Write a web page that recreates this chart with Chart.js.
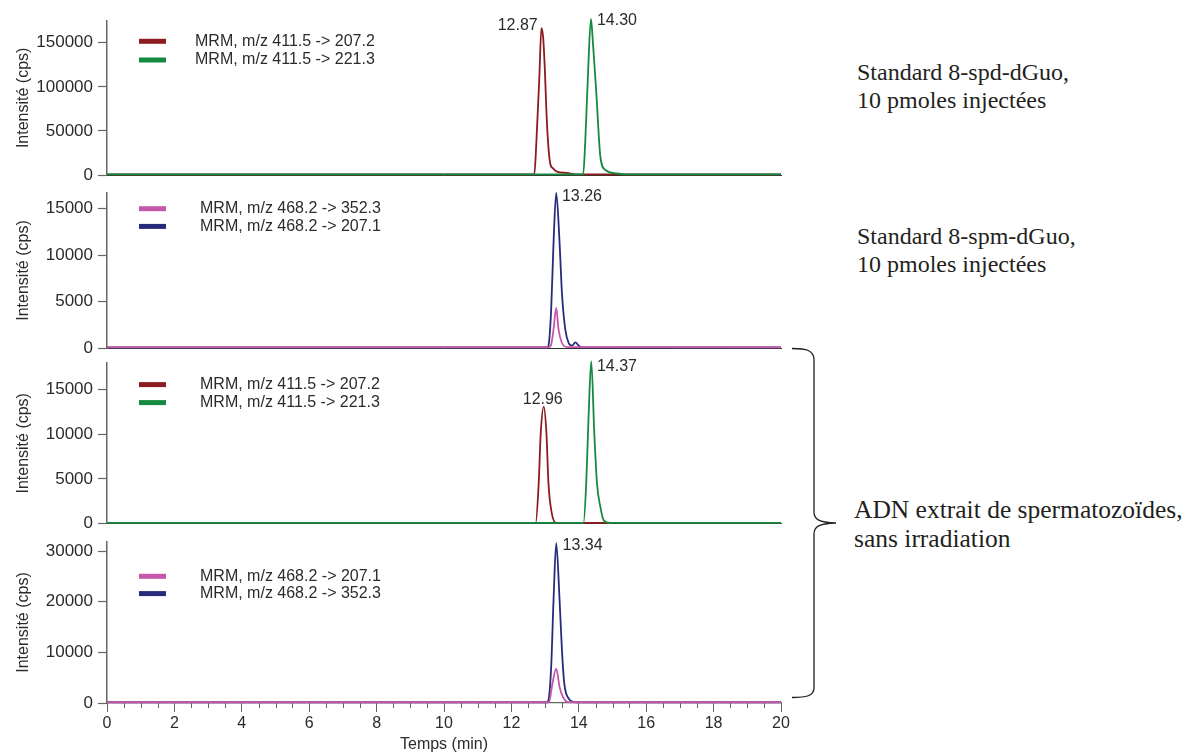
<!DOCTYPE html>
<html>
<head>
<meta charset="utf-8">
<title>Chromatogrammes MRM</title>
<script src="https://cdn.jsdelivr.net/npm/chart.js@4.4.0/dist/chart.umd.min.js"></script>
<style>
  body { margin: 0; background: #fff; }
  #wrap { position: relative; width: 1190px; height: 754px; overflow: hidden; }
  .panel { position: absolute; left: 0; width: 800px; }
  .note { position: absolute; font-family: "Liberation Serif", "Times New Roman", serif;
          font-size: 24px; line-height: 28px; color: #231f20; white-space: nowrap; }
  svg { position: absolute; left: 0; top: 0; pointer-events: none; }
</style>
</head>
<body>
<div id="wrap">
  <div class="panel" id="p1"><canvas id="c1"></canvas></div>
  <div class="panel" id="p2"><canvas id="c2"></canvas></div>
  <div class="panel" id="p3"><canvas id="c3"></canvas></div>
  <div class="panel" id="p4"><canvas id="c4"></canvas></div>

  <div class="note" style="top:58px;left:857px">Standard 8-spd-dGuo,<br>10 pmoles injectées</div>
  <div class="note" style="top:222px;left:857px">Standard 8-spm-dGuo,<br>10 pmoles injectées</div>
  <div class="note" style="top:495px;left:854px;font-size:25.5px;line-height:29px">ADN extrait de spermatozoïdes,<br>sans irradiation</div>

  <svg width="1190" height="754">
    <path d="M792,348.5 C806,348.5 814,350 814,360 L814,512 C814,519 818,522.5 836,523 C818,523.5 814,527 814,534 L814,688 C814,696 806,697.5 792,697.5"
          fill="none" stroke="#231f20" stroke-width="1.3"/>
  </svg>
</div>

<script>
// ---- data (time in min, intensity in cps) ----

// standard 8-spd-dGuo
const spd207Time = [0, 12.68, 12.74, 12.83, 12.89, 12.94, 12.98, 13.06, 13.15, 13.22, 13.35, 13.65, 13.90, 20];
const spd207Int  = [600, 600, 36400, 111700, 166600, 157100, 130600, 54900, 13300, 8000, 3800, 2300, 600, 600];
const spd221Time = [0, 14.13, 14.19, 14.27, 14.36, 14.42, 14.52, 14.64, 14.79, 15.13, 15.38, 20];
const spd221Int  = [600, 600, 36400, 111700, 176900, 149600, 92800, 20800, 5700, 1900, 600, 600];

// standard 8-spm-dGuo
const spm352Time = [0, 13.10, 13.17, 13.25, 13.33, 13.40, 13.50, 13.65, 20];
const spm352Int  = [60, 60, 250, 1970, 4310, 1970, 540, 100, 60];
const spm207Time = [0, 13.06, 13.10, 13.18, 13.25, 13.33, 13.43, 13.50, 13.60, 13.70, 13.80, 13.90, 14.00, 14.10, 20];
const spm207Int  = [60, 60, 250, 4120, 11300, 16700, 11300, 5900, 1970, 540, 250, 600, 250, 60, 60];

// ADN extrait, spd transitions
const adnSpd207Time = [0, 12.72, 12.81, 12.87, 12.96, 13.04, 13.10, 13.20, 13.33, 20];
const adnSpd207Int  = [80, 80, 4500, 10100, 13120, 10100, 4500, 1120, 80, 80];
const adnSpd221Time = [0, 14.14, 14.22, 14.29, 14.37, 14.46, 14.54, 14.64, 14.74, 14.94, 20];
const adnSpd221Int  = [80, 80, 4500, 12000, 18180, 10100, 4500, 1870, 370, 80, 80];

// ADN extrait, spm transitions
const adnSpm207Time = [0, 13.12, 13.20, 13.33, 13.43, 13.53, 13.70, 20];
const adnSpm207Int  = [150, 150, 3160, 6790, 3160, 1180, 150, 150];
const adnSpm352Time = [0, 13.06, 13.10, 13.18, 13.25, 13.33, 13.43, 13.50, 13.57, 13.70, 13.90, 20];
const adnSpm352Int  = [150, 150, 530, 7100, 20270, 31580, 20270, 10400, 3830, 870, 150, 150];

const legendSpd    = ['MRM, m/z 411.5 -> 207.2', 'MRM, m/z 411.5 -> 221.3'];
const legendSpmStd = ['MRM, m/z 468.2 -> 352.3', 'MRM, m/z 468.2 -> 207.1'];
const legendSpmAdn = ['MRM, m/z 468.2 -> 207.1', 'MRM, m/z 468.2 -> 352.3'];

const peaksStdSpd = ['12.87', '14.30'];
const peaksStdSpm = ['13.26'];
const peaksAdnSpd = ['12.96', '14.37'];
const peaksAdnSpm = ['13.34'];

const yMaxes = [175000, 16700, 18000, 31800];
const yTicks = [
  [0, 50000, 100000, 150000],
  [0, 5000, 10000, 15000],
  [0, 5000, 10000, 15000],
  [0, 10000, 20000, 30000]
];
const xTicks = [0, 2, 4, 6, 8, 10, 12, 14, 16, 18, 20];

// ---- styling ----
const FONT = '"Liberation Sans", Arial, sans-serif';
const INK = '#2b2b2b';
const AXIS = '#666';
const RED = '#8c1c1f', GREEN = '#138a3f', PINK = '#c658a9', NAVY = '#282b7b';
const MARGIN = 17; // room around each plot for the y tick labels

function pts(t, v) { return t.map((x, i) => ({ x: x, y: v[i] })); }

const panels = [
  { id: 'c1', box: 'p1', plotTop: 20.7, plotBottom: 175,
    series: [
      { label: legendSpd[0], data: pts(spd207Time, spd207Int), color: RED, order: 2 },
      { label: legendSpd[1], data: pts(spd221Time, spd221Int), color: GREEN, order: 1 }
    ],
    legendY: 20.6, legendGap: 18.7, legendTextX: 88,
    peakText: peaksStdSpd,
    peaks: [{ ds: 0, align: 'right', dx: -3.7, dy: -2.3 }, { ds: 1, align: 'left', dx: 6, dy: 1.4 }] },
  { id: 'c2', box: 'p2', plotTop: 193.3, plotBottom: 348.3,
    series: [
      { label: legendSpmStd[0], data: pts(spm352Time, spm352Int), color: PINK, order: 1 },
      { label: legendSpmStd[1], data: pts(spm207Time, spm207Int), color: NAVY, order: 2 }
    ],
    legendY: 15.7, legendGap: 17.7, legendTextX: 93,
    peakText: peaksStdSpm,
    peaks: [{ ds: 1, align: 'left', dx: 5.7, dy: 3.7 }] },
  { id: 'c3', box: 'p3', plotTop: 362.7, plotBottom: 523.3,
    series: [
      { label: legendSpd[0], data: pts(adnSpd207Time, adnSpd207Int), color: RED, order: 2 },
      { label: legendSpd[1], data: pts(adnSpd221Time, adnSpd221Int), color: GREEN, order: 1 }
    ],
    legendY: 21.6, legendGap: 18, legendTextX: 93,
    peakText: peaksAdnSpd,
    peaks: [{ ds: 0, align: 'center', dx: -1, dy: -7 }, { ds: 1, align: 'left', dx: 5.7, dy: 5.6 }] },
  { id: 'c4', box: 'p4', plotTop: 541.7, plotBottom: 702.7, bottomAxis: true,
    series: [
      { label: legendSpmAdn[0], data: pts(adnSpm207Time, adnSpm207Int), color: PINK, order: 1 },
      { label: legendSpmAdn[1], data: pts(adnSpm352Time, adnSpm352Int), color: NAVY, order: 2 }
    ],
    legendY: 34.3, legendGap: 17.3, legendTextX: 93,
    peakText: peaksAdnSpm,
    peaks: [{ ds: 1, align: 'left', dx: 6.3, dy: 2.3 }] }
];

// legend drawn inside the plot, top-left
function insideLegend(p) {
  return {
    id: 'insideLegend',
    afterDraw(chart) {
      const { ctx, chartArea } = chart;
      ctx.save();
      ctx.font = '16px ' + FONT;
      ctx.textBaseline = 'middle';
      chart.data.datasets.forEach((ds, i) => {
        const y = chartArea.top + p.legendY + i * p.legendGap;
        ctx.strokeStyle = ds.borderColor;
        ctx.lineWidth = 5;
        ctx.beginPath();
        ctx.moveTo(chartArea.left + 32, y);
        ctx.lineTo(chartArea.left + 59, y);
        ctx.stroke();
        ctx.fillStyle = INK;
        ctx.fillText(ds.label, chartArea.left + p.legendTextX, y);
      });
      ctx.restore();
    }
  };
}

// retention time written next to each apex
function peakLabels(p) {
  return {
    id: 'peakLabels',
    afterDatasetsDraw(chart) {
      const ctx = chart.ctx;
      ctx.save();
      ctx.font = '16px ' + FONT;
      ctx.fillStyle = INK;
      ctx.textBaseline = 'middle';
      p.peaks.forEach((pk, k) => {
        const vals = chart.data.datasets[pk.ds].data;
        let best = 0;
        vals.forEach((d, i) => { if (d.y > vals[best].y) best = i; });
        const el = chart.getDatasetMeta(pk.ds).data[best];
        ctx.textAlign = pk.align;
        ctx.fillText(p.peakText[k], el.x + pk.dx, el.y + pk.dy);
      });
      ctx.restore();
    }
  };
}

// small ticks every 0.5 min on the time axis
const minorTicks = {
  id: 'minorTicks',
  afterDraw(chart) {
    const s = chart.scales.x;
    const ctx = chart.ctx;
    ctx.save();
    ctx.strokeStyle = AXIS;
    ctx.lineWidth = 1;
    for (let v = 0.5; v < 20; v += 0.5) {
      if (v % 2 === 0) continue;
      const x = Math.round(s.getPixelForValue(v)) + 0.5;
      ctx.beginPath();
      ctx.moveTo(x, s.top);
      ctx.lineTo(x, s.top + 5);
      ctx.stroke();
    }
    ctx.restore();
  }
};

panels.forEach((p, n) => {
  // canvas box around the plot area (canvases may overlap, they are transparent)
  const top = Math.max(0, p.plotTop - MARGIN - 4);
  const bottom = p.bottomAxis ? 754 : p.plotBottom + MARGIN;
  const box = document.getElementById(p.box);
  box.style.top = top + 'px';
  box.style.height = (bottom - top) + 'px';

  const xAxis = p.bottomAxis ? {
    type: 'linear', min: 0, max: 20,
    afterFit(s) { s.height = bottom - p.plotBottom; },
    afterBuildTicks(s) { s.ticks = xTicks.map(v => ({ value: v })); },
    ticks: { autoSkip: false, maxRotation: 0, padding: 2,
             font: { family: FONT, size: 16 }, color: INK, callback: v => String(v) },
    grid: { drawOnChartArea: false, tickLength: 9, tickColor: AXIS },
    border: { color: AXIS, width: 1.2 },
    title: { display: true, text: 'Temps (min)', font: { family: FONT, size: 16 }, color: INK, padding: 0 }
  } : {
    type: 'linear', min: 0, max: 20,
    afterFit(s) { s.height = 0; },
    ticks: { display: false },
    grid: { drawOnChartArea: false, drawTicks: false },
    border: { color: '#333', width: 1 }
  };

  new Chart(document.getElementById(p.id), {
    type: 'line',
    data: {
      datasets: p.series.map(s => ({
        label: s.label,
        data: s.data,
        borderColor: s.color,
        backgroundColor: s.color,
        borderWidth: 1.8,
        pointRadius: 0,
        cubicInterpolationMode: 'monotone',
        order: s.order,
        clip: false
      }))
    },
    options: {
      responsive: true,
      maintainAspectRatio: false,
      animation: false,
      layout: { padding: { left: 0, right: 19, top: p.plotTop - top,
                           bottom: p.bottomAxis ? 0 : bottom - p.plotBottom } },
      plugins: { legend: { display: false }, tooltip: { enabled: false } },
      scales: {
        x: xAxis,
        y: {
          min: 0, max: yMaxes[n],
          afterFit(s) { s.width = 107; },
          afterBuildTicks(s) { s.ticks = yTicks[n].map(v => ({ value: v })); },
          ticks: { padding: 5, font: { family: FONT, size: 17 }, color: INK, callback: v => String(v) },
          grid: { drawOnChartArea: false, tickLength: 9, tickColor: AXIS, tickWidth: 1.2 },
          border: { color: AXIS, width: 1.5 },
          title: { display: true, text: 'Intensité (cps)', font: { family: FONT, size: 16 },
                   color: INK, padding: { top: 14, bottom: 0 } }
        }
      }
    },
    plugins: p.bottomAxis ? [insideLegend(p), peakLabels(p), minorTicks] : [insideLegend(p), peakLabels(p)]
  });
});
</script>
</body>
</html>
